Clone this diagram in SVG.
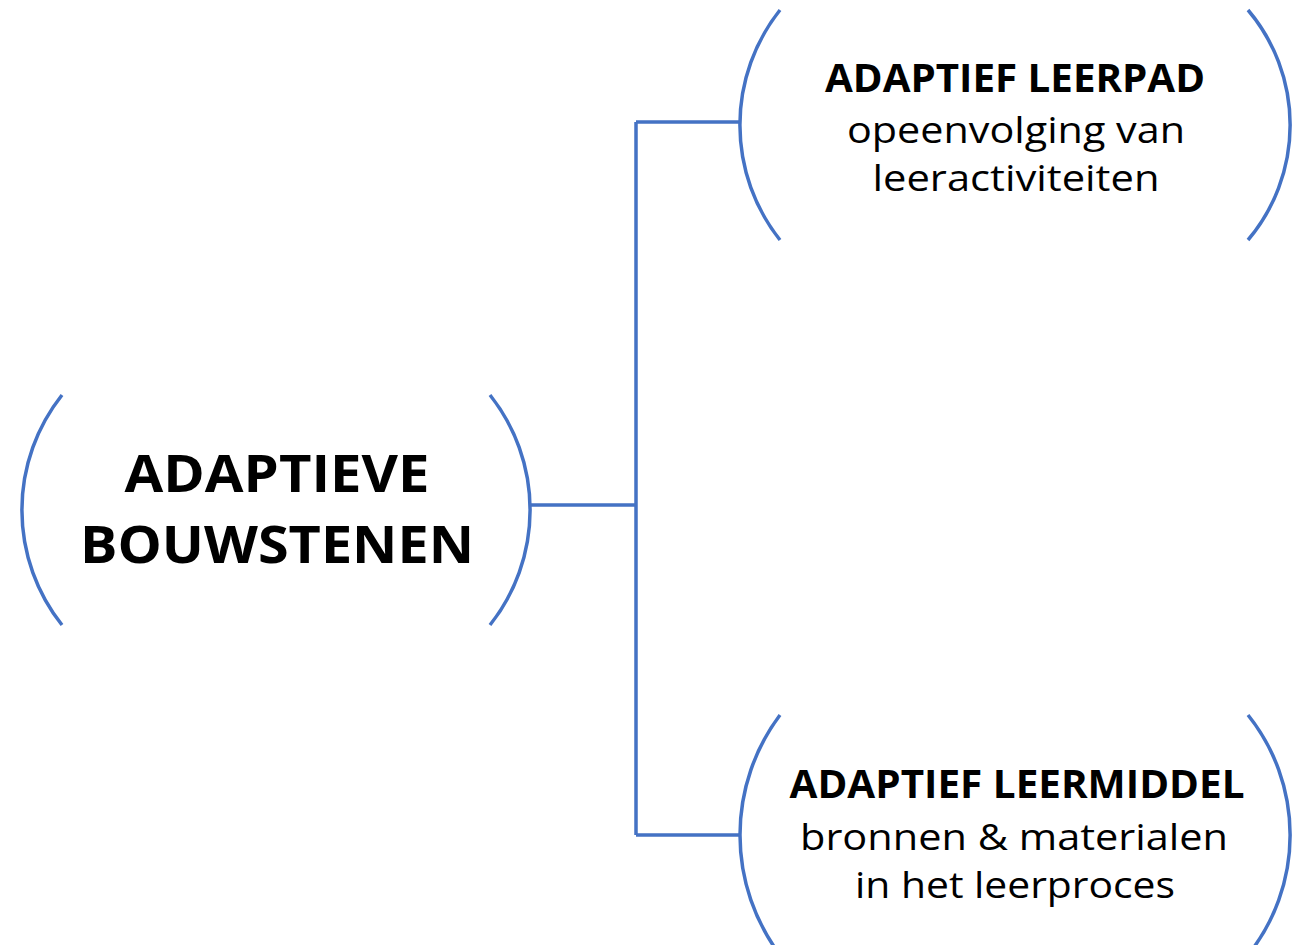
<svg xmlns="http://www.w3.org/2000/svg" width="1307" height="945" viewBox="0 0 1307 945">
<style>
.arc{fill:none;stroke:#4472C4;stroke-width:3.5}
.con{fill:none;stroke:#4472C4;stroke-width:3.5}
.t{font-family:"Open Sans","Noto Sans",sans-serif;fill:#000;text-anchor:middle}
.b{font-weight:bold}
</style>
<rect width="1307" height="945" fill="#fff"/>
<g id="connectors">
<path class="con" d="M530,505 H636 M636,122 V835 M636,122 H740 M636,835 H740"/>
</g>
<g id="node-adaptieve-bouwstenen">
<path class="arc" d="M62,395 A185,185 0 0 0 62,625"/>
<path class="arc" d="M490,395 A185,185 0 0 1 490,625"/>
<text class="t b" x="277" y="492" font-size="52" textLength="305" lengthAdjust="spacingAndGlyphs">ADAPTIEVE</text>
<text class="t b" x="277" y="563" font-size="52" textLength="394" lengthAdjust="spacingAndGlyphs">BOUWSTENEN</text>
</g>
<g id="node-adaptief-leerpad">
<path class="arc" d="M780,10 A185,185 0 0 0 780,240"/>
<path class="arc" d="M1248,10 A178,178 0 0 1 1248,240"/>
<text class="t b" x="1015" y="92" font-size="40" textLength="380" lengthAdjust="spacingAndGlyphs">ADAPTIEF LEERPAD</text>
<text class="t" x="1016" y="143" font-size="37" textLength="338" lengthAdjust="spacingAndGlyphs">opeenvolging van</text>
<text class="t" x="1016" y="191" font-size="37" textLength="287" lengthAdjust="spacingAndGlyphs">leeractiviteiten</text>
</g>
<g id="node-adaptief-leermiddel">
<path class="arc" d="M780,715 A200,200 0 0 0 780,955"/>
<path class="arc" d="M1248,715 A192,192 0 0 1 1248,955"/>
<text class="t b" x="1017" y="798" font-size="40" textLength="455" lengthAdjust="spacingAndGlyphs">ADAPTIEF LEERMIDDEL</text>
<text class="t" x="1014" y="850" font-size="37" textLength="428" lengthAdjust="spacingAndGlyphs">bronnen &amp; materialen</text>
<text class="t" x="1015" y="898" font-size="37" textLength="320" lengthAdjust="spacingAndGlyphs">in het leerproces</text>
</g>
</svg>
